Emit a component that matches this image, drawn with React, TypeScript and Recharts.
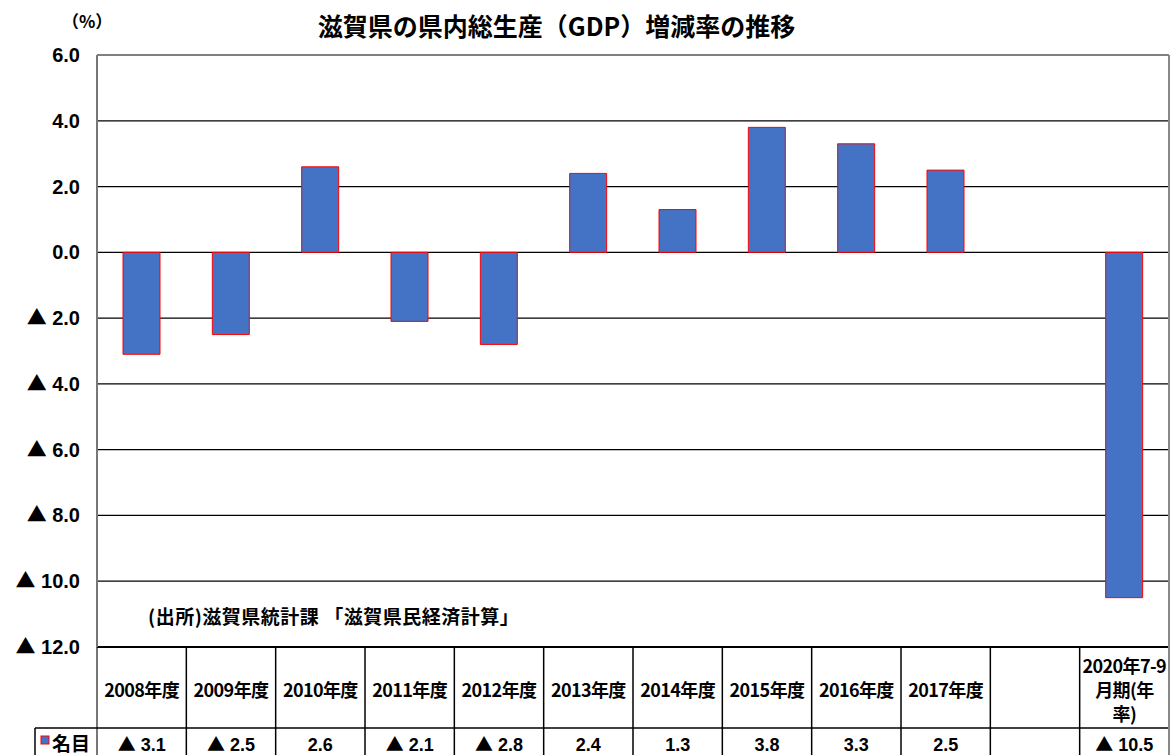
import { BarChart, Bar, XAxis, YAxis, CartesianGrid } from "recharts";

// categories and values (negative = ▲)
const categories = [
  "2008年度", "2009年度", "2010年度", "2011年度", "2012年度", "2013年度",
  "2014年度", "2015年度", "2016年度", "2017年度", "", "2020年7-9月期(年率)",
];
const nominal = [-3.1, -2.5, 2.6, -2.1, -2.8, 2.4, 1.3, 3.8, 3.3, 2.5, null, -10.5];
const yTicks = [6, 4, 2, 0, -2, -4, -6, -8, -10, -12];
// wrapped header for the last column
const wrappedLabels: Record<string, string[]> = {
  "2020年7-9月期(年率)": ["2020年7-9", "月期(年", "率)"],
};

const data = categories.map((c, i) => ({ cat: c || " ", value: nominal[i] }));

const W = 1173;
const H = 755;
const PLOT_LEFT = 97;
const PLOT_RIGHT = 1169;
const PLOT_TOP = 55;
const PLOT_BOTTOM = 647;
const ROW_LINE = 728;
const BAND = (PLOT_RIGHT - PLOT_LEFT) / categories.length;

const FONT = "'Liberation Sans', 'Noto Sans CJK JP', sans-serif";
const JP = "'Noto Sans CJK JP', 'Liberation Sans', sans-serif";

const Num = ({ v }: { v: number }) =>
  v < 0 ? (
    <>
      <tspan fontFamily={JP}>▲</tspan>
      <tspan> {Math.abs(v).toFixed(1)}</tspan>
    </>
  ) : (
    <>{v.toFixed(1)}</>
  );

const YTick = ({ y, payload }: any) => (
  <text x={80} y={y + 7} textAnchor="end" fontFamily={FONT} fontWeight="bold" fontSize={20} fill="#000">
    <Num v={payload.value} />
  </text>
);

const XTick = ({ x, index }: any) => {
  const label = categories[index];
  const v = nominal[index];
  const lines = wrappedLabels[label] || [label];
  const right = x + BAND / 2;
  const startY = 697 - ((lines.length - 1) * 24) / 2;
  return (
    <g>
      <line x1={right} x2={right} y1={PLOT_BOTTOM} y2={H} stroke="#000" strokeWidth={1.5} />
      {index === categories.length - 1 && (
        <line x1={right} x2={right} y1={PLOT_TOP} y2={H} stroke="#888" strokeWidth={2} />
      )}
      {lines.map((l, i) => (
        <text key={i} x={x} y={startY + i * 24} textAnchor="middle" fontFamily={JP} fontWeight="bold" fontSize={18} letterSpacing={-0.6} fill="#000">
          {l}
        </text>
      ))}
      {v !== null && (
        <text x={x} y={751} textAnchor="middle" fontFamily={FONT} fontWeight="bold" fontSize={18} fill="#000">
          <Num v={v} />
        </text>
      )}
    </g>
  );
};

export default function App() {
  return (
    <div style={{ position: "fixed", left: 0, top: 0, width: W, height: H, background: "#fff" }}>
      <BarChart width={W} height={H} data={data} margin={{ top: PLOT_TOP, right: W - PLOT_RIGHT, bottom: 0, left: 0 }}>
        <CartesianGrid vertical={false} stroke="#000" strokeWidth={1.2} />
        <XAxis dataKey="cat" height={H - PLOT_BOTTOM} tick={<XTick />} tickLine={false} axisLine={false} interval={0} />
        <YAxis
          width={PLOT_LEFT}
          domain={[-12, 6]}
          ticks={yTicks}
          interval={0}
          tick={<YTick />}
          tickLine={false}
          axisLine={{ stroke: "#777", strokeWidth: 2 }}
        />
        <Bar dataKey="value" fill="#4472C4" stroke="#FF0000" strokeWidth={1} barSize={37} isAnimationActive={false} />
        {/* table frame */}
        <line x1={PLOT_LEFT} x2={PLOT_LEFT} y1={PLOT_BOTTOM} y2={H} stroke="#777" strokeWidth={2} />
        <line x1={35} x2={PLOT_RIGHT} y1={ROW_LINE} y2={ROW_LINE} stroke="#000" strokeWidth={1.5} />
        <line x1={35} x2={35} y1={ROW_LINE} y2={H} stroke="#000" strokeWidth={1.5} />
        <line x1={PLOT_LEFT} x2={PLOT_RIGHT} y1={PLOT_BOTTOM} y2={PLOT_BOTTOM} stroke="#000" strokeWidth={2} />
        <rect x={41} y={736} width={8} height={8} fill="#4472C4" stroke="#FF0000" strokeWidth={1} />
        <text x={52} y={751} fontFamily={JP} fontWeight="bold" fontSize={19} fill="#000">名目</text>
      </BarChart>
      <div style={{ position: "absolute", left: 62, top: 8, fontFamily: JP, fontWeight: "bold", fontSize: 17 }}>（%）</div>
      <div style={{ position: "absolute", left: 0, width: 1113, top: 7, textAlign: "center", fontFamily: JP, fontWeight: "bold", fontSize: 25, lineHeight: "36px" }}>
        滋賀県の県内総生産（GDP）増減率の推移
      </div>
      <div style={{ position: "absolute", left: 148, top: 602, fontFamily: JP, fontWeight: "bold", fontSize: 19, letterSpacing: 0.5 }}>
        (出所)滋賀県統計課 「滋賀県民経済計算」
      </div>
    </div>
  );
}
